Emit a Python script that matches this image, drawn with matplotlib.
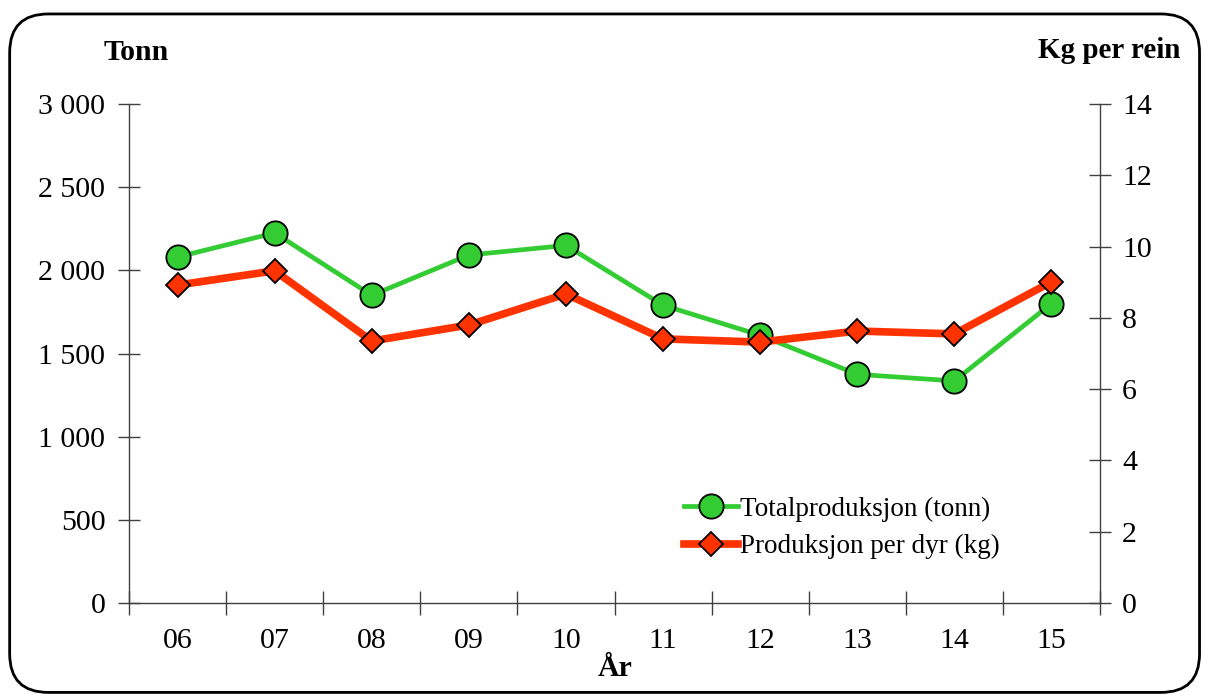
import matplotlib
matplotlib.use("Agg")
import matplotlib.pyplot as plt
from matplotlib.patches import FancyBboxPatch
from matplotlib.ticker import FuncFormatter, MultipleLocator, FixedLocator

years = ["06", "07", "08", "09", "10", "11", "12", "13", "14", "15"]
total_tonn = [2080, 2225, 1850, 2092, 2150, 1790, 1610, 1375, 1335, 1800]
kg_per_dyr = [8.92, 9.32, 7.35, 7.80, 8.67, 7.41, 7.32, 7.63, 7.55, 9.01]

plt.rcParams['font.family'] = ['Liberation Serif', 'DejaVu Serif']

fig = plt.figure(figsize=(12.08, 6.98), dpi=100)
border = FancyBboxPatch((0.008, 0.008), 0.985, 0.972,
                        boxstyle="round,pad=0,rounding_size=0.032",
                        transform=fig.transFigure, fill=False,
                        edgecolor='black', linewidth=2, mutation_aspect=1208/698)
fig.patches.append(border)

ax = fig.add_axes([0.1068, 0.1361, 0.8038, 0.7149])
ax2 = ax.twinx()

x = list(range(len(years)))
spine_c = '#404040'

l1, = ax.plot(x, total_tonn, color='#33cc33', lw=3.4, marker='o', markersize=17.5,
              markerfacecolor='#33cc33', markeredgecolor='black', markeredgewidth=1.3,
              label='Totalproduksjon (tonn)', zorder=3)
l2, = ax2.plot(x, kg_per_dyr, color='#ff3300', lw=5.5, marker='D', markersize=12,
               markerfacecolor='#ff3300', markeredgecolor='black', markeredgewidth=1.3,
               label='Produksjon per dyr (kg)', zorder=3)

ax.set_xlim(-0.5, len(years) - 0.5)
ax.set_ylim(0, 3000)
ax2.set_ylim(0, 14)
ax.yaxis.set_major_locator(MultipleLocator(500))
ax2.yaxis.set_major_locator(MultipleLocator(2))
ax.yaxis.set_major_formatter(FuncFormatter(lambda v, p: f"{int(v):,}".replace(",", " ")))

ax.set_xticks(x)
ax.set_xticklabels(years)
ax.xaxis.set_minor_locator(FixedLocator([i - 0.5 for i in range(len(years) + 1)]))
ax.tick_params(axis='x', which='major', length=0, labelsize=21.5, pad=18)
ax.tick_params(axis='x', which='minor', direction='inout', length=17, width=1, color=spine_c)
ax.tick_params(axis='y', direction='inout', length=16, width=1, color=spine_c, labelsize=21.5, pad=9)
ax2.tick_params(axis='y', direction='inout', length=16, width=1, color=spine_c, labelsize=21.5, pad=8)

for a in (ax, ax2):
    a.spines['top'].set_visible(False)
    for s in ('left', 'right', 'bottom'):
        a.spines[s].set_color(spine_c)
        a.spines[s].set_linewidth(1)
ax.spines['right'].set_visible(False)
ax2.spines['left'].set_visible(False)
ax2.spines['bottom'].set_visible(False)
ax.patch.set_visible(False)

fig.text(136/1208, 1 - 53/698, "Tonn", ha='center', va='center', fontsize=21.5, fontweight='bold')
fig.text(1109/1208, 1 - 50/698, "Kg per rein", ha='center', va='center', fontsize=21, fontweight='bold')
fig.text(615/1208, 1 - 668/698, "År", ha='center', va='center', fontsize=21.5, fontweight='bold')

leg = ax.legend([l1, l2], [l1.get_label(), l2.get_label()], loc='upper left',
                bbox_to_anchor=(0.56, 0.235), frameon=False, fontsize=19.5,
                handlelength=2.0, handletextpad=0.1, borderaxespad=0, labelspacing=0.45)

fig.savefig("out.png", dpi=100)
